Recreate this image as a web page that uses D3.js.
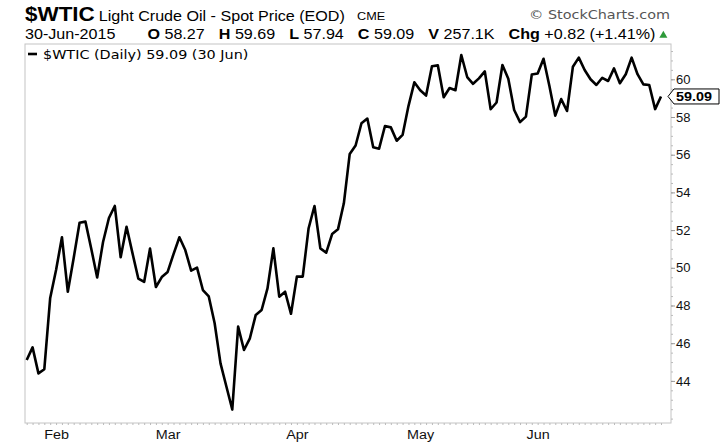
<!DOCTYPE html>
<html>
<head>
<meta charset="utf-8">
<script src="https://cdn.jsdelivr.net/npm/d3@7"></script>
<style>
  body { margin: 0; background: #fff; }
  svg { display: block; font-family: 'Liberation Sans', Arial, sans-serif; }
</style>
</head>
<body>
<svg width="720" height="445"></svg>
<script>
// trading days shown on the chart
const dates = [
  '2015-01-26', '2015-01-27', '2015-01-28', '2015-01-29', '2015-01-30',
  '2015-02-02', '2015-02-03', '2015-02-04', '2015-02-05', '2015-02-06',
  '2015-02-09', '2015-02-10', '2015-02-11', '2015-02-12', '2015-02-13',
  '2015-02-17', '2015-02-18', '2015-02-19', '2015-02-20',
  '2015-02-23', '2015-02-24', '2015-02-25', '2015-02-26', '2015-02-27',
  '2015-03-02', '2015-03-03', '2015-03-04', '2015-03-05', '2015-03-06',
  '2015-03-09', '2015-03-10', '2015-03-11', '2015-03-12', '2015-03-13',
  '2015-03-16', '2015-03-17', '2015-03-18', '2015-03-19', '2015-03-20',
  '2015-03-23', '2015-03-24', '2015-03-25', '2015-03-26', '2015-03-27',
  '2015-03-30', '2015-03-31',
  '2015-04-01', '2015-04-02',
  '2015-04-06', '2015-04-07', '2015-04-08', '2015-04-09', '2015-04-10',
  '2015-04-13', '2015-04-14', '2015-04-15', '2015-04-16', '2015-04-17',
  '2015-04-20', '2015-04-21', '2015-04-22', '2015-04-23', '2015-04-24',
  '2015-04-27', '2015-04-28', '2015-04-29', '2015-04-30',
  '2015-05-01',
  '2015-05-04', '2015-05-05', '2015-05-06', '2015-05-07', '2015-05-08',
  '2015-05-11', '2015-05-12', '2015-05-13', '2015-05-14', '2015-05-15',
  '2015-05-18', '2015-05-19', '2015-05-20', '2015-05-21', '2015-05-22',
  '2015-05-26', '2015-05-27', '2015-05-28', '2015-05-29',
  '2015-06-01', '2015-06-02', '2015-06-03', '2015-06-04', '2015-06-05',
  '2015-06-08', '2015-06-09', '2015-06-10', '2015-06-11', '2015-06-12',
  '2015-06-15', '2015-06-16', '2015-06-17', '2015-06-18', '2015-06-19',
  '2015-06-22', '2015-06-23', '2015-06-24', '2015-06-25', '2015-06-26',
  '2015-06-29', '2015-06-30'
]

// daily close
const closes = [
  45.11, 45.78, 44.40, 44.62, 48.40,
  49.88, 51.62, 48.73, 50.52, 52.39,
  52.45, 51.00, 49.49, 51.37, 52.64,
  53.28, 50.56, 52.18, 50.79,
  49.43, 49.25, 51.02, 48.98, 49.51,
  49.78, 50.73, 51.62, 50.94, 49.85,
  50.01, 48.82, 48.48, 47.06, 44.93,
  43.70, 42.48, 46.88, 45.64, 46.26,
  47.50, 47.76, 48.91, 51.03, 48.47,
  48.73, 47.56,
  49.53, 49.53,
  52.10, 53.28, 51.03, 50.80, 51.79,
  52.04, 53.42, 56.04, 56.49, 57.67,
  57.92, 56.39, 56.32, 57.52, 57.45,
  56.74, 57.05, 58.58, 59.84,
  59.42,
  59.14, 60.69, 60.74, 59.05, 59.54,
  59.42, 61.29, 60.12, 59.76, 60.05,
  60.42, 58.41, 58.77, 60.76, 60.03,
  58.37, 57.73, 58.02, 60.25,
  60.31, 61.09, 59.64, 58.07, 58.95,
  58.32, 60.67, 61.15, 60.49, 60.00,
  59.70, 60.08, 59.91, 60.58, 59.79,
  60.27, 61.15, 60.27, 59.73, 59.70,
  58.42, 59.09
]

const yTicks = [44, 46, 48, 50, 52, 54, 56, 58, 60]
const monthStarts = ['2015-02-02', '2015-03-02', '2015-04-01', '2015-05-01', '2015-06-01']
const monthNames = ['Feb', 'Mar', 'Apr', 'May', 'Jun']
const lastClose = 59.09

const titleSym = '$WTIC'
const titleName = 'Light Crude Oil - Spot Price (EOD)'
const exchange = 'CME'
const quoteDate = '30-Jun-2015'
const quoteKeys = ['O', 'H', 'L', 'C', 'V', 'Chg']
const quoteVals = ['58.27', '59.69', '57.94', '59.09', '257.1K', '+0.82 (+1.41%)']
const legendText = '$WTIC (Daily) 59.09 (30 Jun)'

let svg = d3.select('svg')
let plotLeft = 25
let plotRight = 671
let plotTop = 44
let plotBottom = 423

// the source image text is a little wide, so every label gets widened
let stretch = 1.15

let x = d3.scalePoint().domain(dates).range([26.7, 661])
let y = d3.scaleLinear().domain([44, 60]).range([380.9, 79.3])

function widen(sel) {
  let w = 0
  sel.each(function() {
    w = this.getComputedTextLength() * stretch
    d3.select(this).attr('textLength', w).attr('lengthAdjust', 'spacingAndGlyphs')
  })
  return w
}

// header, row 1
let w = widen(svg.append('text')
  .attr('x', plotLeft).attr('y', 21)
  .attr('font-size', 19.5).attr('font-weight', 'bold')
  .text(titleSym))
widen(svg.append('text')
  .attr('x', plotLeft + w + 4).attr('y', 21)
  .attr('font-size', 14)
  .text(titleName))
widen(svg.append('text')
  .attr('x', 357).attr('y', 20)
  .attr('font-size', 11)
  .text(exchange))
let sc = svg.append('text')
  .attr('y', 19)
  .attr('font-family', 'DejaVu Sans, sans-serif')
  .attr('font-size', 12.5)
  .attr('fill', '#555')
  .text('\u00a9 StockCharts.com')
w = widen(sc)
sc.attr('x', 670 - w)

// header, row 2
let row2 = svg.append('g').attr('font-size', 14)
let cx = plotLeft
cx += widen(row2.append('text').attr('x', cx).attr('y', 39).text(quoteDate)) + 32
quoteKeys.forEach((k, i) => {
  cx += widen(row2.append('text')
    .attr('x', cx).attr('y', 39)
    .attr('font-weight', 'bold')
    .text(k)) + 4.5
  cx += widen(row2.append('text')
    .attr('x', cx).attr('y', 39)
    .text(quoteVals[i])) + 14
})
svg.append('path')
  .attr('d', d3.symbol(d3.symbolTriangle, 28)())
  .attr('transform', `translate(${cx - 14 + 8}, 35.5)`)
  .attr('fill', '#2e9a3a')

// plot frame
svg.append('rect')
  .attr('x', plotLeft).attr('y', plotTop)
  .attr('width', plotRight - plotLeft).attr('height', plotBottom - plotTop)
  .attr('fill', '#fff')
  .attr('stroke', '#c4c4c4')

// minor ticks along bottom, one per trading day
svg.append('g')
  .attr('transform', `translate(0, ${plotBottom})`)
  .call(d3.axisBottom(x).tickValues(dates).tickSize(2).tickFormat(''))
  .call(g => g.select('.domain').remove())
  .selectAll('line').attr('stroke', '#bbb')

// month labels
svg.append('g')
  .attr('transform', `translate(0, ${plotBottom})`)
  .call(d3.axisBottom(x).tickValues(monthStarts).tickSize(0).tickFormat((d, i) => monthNames[i]))
  .call(g => g.select('.domain').remove())
  .selectAll('text')
  .attr('font-family', null)
  .attr('font-size', 12.5)
  .attr('fill', '#111')
  .attr('dy', '1.05em')
  .each(function() { widen(d3.select(this)) })

// right axis
let minor = d3.range(42, 62, 0.5)
svg.append('g')
  .attr('transform', `translate(${plotRight}, 0)`)
  .call(d3.axisRight(y).tickValues(minor).tickSize(2).tickFormat(''))
  .call(g => g.select('.domain').remove())
  .selectAll('line').attr('stroke', '#bbb')

svg.append('g')
  .attr('transform', `translate(${plotRight}, 0)`)
  .call(d3.axisRight(y).tickValues(yTicks).tickSize(4).tickPadding(1).tickFormat(d3.format('d')))
  .call(g => g.select('.domain').remove())
  .call(g => g.selectAll('line').attr('stroke', '#999'))
  .selectAll('text')
  .attr('font-family', null)
  .attr('font-size', 13)
  .attr('fill', '#111')

// price line
svg.append('path')
  .datum(closes)
  .attr('fill', 'none')
  .attr('stroke', '#000')
  .attr('stroke-width', 2.6)
  .attr('stroke-linejoin', 'round')
  .attr('d', d3.line()
    .x((d, i) => x(dates[i]))
    .y(d => y(d)))

// legend
svg.append('line')
  .attr('x1', 28).attr('x2', 37)
  .attr('y1', 54).attr('y2', 54)
  .attr('stroke', '#000').attr('stroke-width', 2.6)
widen(svg.append('text')
  .attr('x', 43).attr('y', 59)
  .attr('font-family', 'DejaVu Sans, sans-serif')
  .attr('font-size', 12.5)
  .text(legendText))

// last value tag
let ty = y(lastClose)
svg.append('path')
  .attr('d', `M${plotRight - 3},${ty} L${plotRight + 3},${ty - 7.5} H719 V${ty + 7.5} H${plotRight + 3} Z`)
  .attr('fill', '#fff')
  .attr('stroke', '#000')
widen(svg.append('text')
  .attr('x', 676).attr('y', ty)
  .attr('dy', '0.36em')
  .attr('font-size', 12.5)
  .attr('font-weight', 'bold')
  .text(d3.format('.2f')(lastClose)))
</script>
</body>
</html>
